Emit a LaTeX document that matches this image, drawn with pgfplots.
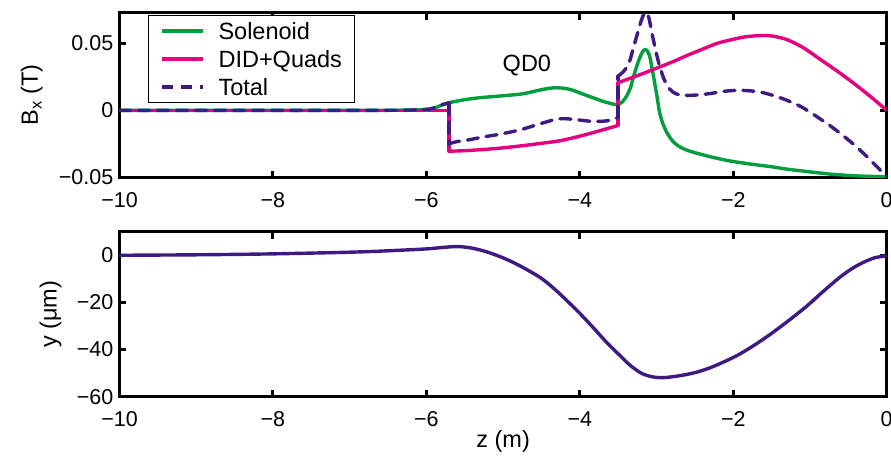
\documentclass[border=0pt]{standalone}
\usepackage{fontspec}
\setmainfont{Liberation Sans}
\usepackage{pgfplots}
\pgfplotsset{compat=1.18}
\definecolor{cgreen}{RGB}{0,158,61}
\definecolor{cpink}{RGB}{230,0,126}
\definecolor{cpurple}{RGB}{62,26,130}
\pgfplotsset{
  myaxis/.style={
    scale only axis, width=767.2pt, height=165pt,
    xmin=-10, xmax=0,
    scaled y ticks=false, scaled x ticks=false,
    axis line style={line width=3pt},
    every tick/.style={line width=3pt, black},
    major tick length=7pt,
    tick align=inside, xtick pos=both, ytick pos=both,
    xtick={-10,-8,-6,-4,-2,0},
    xticklabels={−10,−8,−6,−4,−2,0},
    ticklabel style={font=\fontsize{21.5}{25}\selectfont},
    xticklabel style={anchor=base, inner sep=0pt, yshift=-29.5pt},
    yticklabel style={anchor=east, inner sep=0pt, xshift=-6pt},
    label style={font=\fontsize{23.5}{28}\selectfont, inner sep=0pt},
    no markers,
    every axis plot/.append style={line width=3.4pt, line join=round, line cap=round},
  }
}
\begin{document}
\begin{tikzpicture}
\begin{axis}[myaxis, name=top, at={(0,0)}, anchor=south west,
  ymin=-0.05, ymax=0.073,
  ytick={-0.05,0,0.05}, yticklabels={−0.05,0,0.05},
  ylabel={B\textsubscript{x} (T)},
  ylabel style={at={(axis description cs:-0.1063,0.5)}, anchor=base},
  legend cell align=left,
  legend image code/.code={\draw[#1, line cap=butt] (0pt,0pt) -- (41pt,0pt);},
  legend style={at={(axis description cs:0.0368,0.985)}, anchor=north west,
    draw=black, line width=0.8pt, font=\fontsize{23.5}{28}\selectfont,
    inner xsep=12pt, inner ysep=3pt, row sep=3pt,
    nodes={inner sep=0pt, text height=21.3pt, text depth=3.7pt},
    /tikz/every odd column/.append style={column sep=14pt}},
]
% Solenoid
\addplot[cgreen, smooth, tension=0.4] coordinates {
(-10,0) (-9,0) (-8,0) (-7,0) (-6.5,0.0001) (-6.2,0.0003) (-6.05,0.0006)
(-5.95,0.0011) (-5.85,0.0028) (-5.78,0.0045) (-5.7,0.0058) (-5.6,0.0070)
(-5.48,0.0082) (-5.3,0.0095) (-5.05,0.0107) (-4.78,0.0121) (-4.65,0.0135)
(-4.52,0.0152) (-4.4,0.0165) (-4.31,0.0169) (-4.2,0.0165) (-4.1,0.0152)
(-3.95,0.0120) (-3.83,0.0095) (-3.7,0.0068) (-3.6,0.0052) (-3.546,0.0045)
(-3.49,0.0048) (-3.44,0.0067) (-3.39,0.0107) (-3.34,0.0170) (-3.286,0.0280)
(-3.24,0.0360) (-3.20,0.0418) (-3.17,0.0448) (-3.146,0.0455) (-3.12,0.0445)
(-3.09,0.0405) (-3.06,0.0320) (-3.025,0.0207) (-2.99,0.0090) (-2.96,-0.0017)
(-2.92,-0.0095) (-2.87,-0.0160) (-2.80,-0.0222) (-2.74,-0.0255) (-2.67,-0.0280)
(-2.6,-0.0297) (-2.52,-0.0312) (-2.3,-0.0345) (-2.09,-0.0372) (-1.8,-0.0398)
(-1.5,-0.0420) (-1.31,-0.0437) (-1.0,-0.0458) (-0.73,-0.0475) (-0.4,-0.0488)
(0,-0.0495)
};
\addlegendentry{Solenoid}
% DID+Quads
\addplot[cpink] coordinates {(-10,0) (-5.707,0) (-5.707,-0.0304)};
\addlegendentry{DID+Quads}
\addplot[cpink, smooth, forget plot] coordinates {
(-5.707,-0.0304) (-5.5,-0.0300) (-5.25,-0.0291) (-5.0,-0.0279) (-4.75,-0.0263)
(-4.5,-0.0245) (-4.26,-0.0226) (-4.0,-0.0192) (-3.75,-0.0153) (-3.5,-0.0112)
};
\addplot[cpink, forget plot] coordinates {(-3.5,-0.0112) (-3.5,0.0207)};
\addplot[cpink, smooth, forget plot] coordinates {
(-3.5,0.0207) (-3.2,0.0270) (-3.0,0.0315) (-2.8,0.0360) (-2.6,0.0410)
(-2.4,0.0457) (-2.2,0.0502) (-2.0,0.0530) (-1.85,0.0548) (-1.66,0.0558)
(-1.5,0.0555) (-1.31,0.0530) (-1.1,0.0472) (-0.87,0.0382) (-0.65,0.0295)
(-0.44,0.0207) (-0.2,0.0098) (0,0)
};
% Total
\addplot[cpurple, dash pattern=on 11pt off 8pt, smooth] coordinates {
(-10,0) (-8,0) (-7,0) (-6.5,0.0001) (-6.2,0.0003) (-6.05,0.0006) (-5.95,0.0011)
(-5.85,0.0028) (-5.78,0.0045) (-5.707,0.0055)
};
\addlegendentry{Total}
\addplot[cpurple, dash pattern=on 11pt off 8pt, forget plot] coordinates {(-5.707,0.0055) (-5.707,-0.0249)};
\addplot[cpurple, dash pattern=on 11pt off 8pt, smooth, forget plot] coordinates {
(-5.707,-0.0249) (-5.6,-0.0232) (-5.5,-0.0225) (-5.25,-0.0197) (-5.05,-0.0178)
(-4.78,-0.0145) (-4.52,-0.0100) (-4.31,-0.0066) (-4.18,-0.0062) (-4.0,-0.0072)
(-3.83,-0.0082) (-3.65,-0.0078) (-3.55,-0.0062) (-3.5,-0.0052)
};
\addplot[cpurple, dash pattern=on 11pt off 8pt, forget plot] coordinates {(-3.5,-0.0052) (-3.5,0.0256)};
\addplot[cpurple, dash pattern=on 11pt off 8pt, smooth, forget plot] coordinates {
(-3.5,0.0256) (-3.44,0.0285) (-3.39,0.0320) (-3.35,0.0368) (-3.29,0.0490)
(-3.22,0.0630) (-3.18,0.0700) (-3.14,0.0734) (-3.10,0.0690) (-3.05,0.0550)
(-3.0,0.0420) (-2.96,0.0330) (-2.9,0.0230) (-2.83,0.0160) (-2.75,0.0125)
(-2.66,0.0113) (-2.5,0.0114) (-2.31,0.0125) (-2.13,0.0142) (-1.92,0.0150)
(-1.66,0.0138) (-1.40,0.0097) (-1.13,0.0032) (-0.92,-0.0043) (-0.70,-0.0130)
(-0.48,-0.0229) (-0.265,-0.0340) (-0.07,-0.0453) (0,-0.0490)
};
\node[font=\fontsize{23.5}{28}\selectfont, inner sep=0pt] at (axis cs:-4.69,0.0338) {QD0};
\end{axis}
\begin{axis}[myaxis, name=bot, at={(0,-54.2pt)}, anchor=north west,
  ymin=-60, ymax=10,
  ytick={-60,-40,-20,0}, yticklabels={−60,−40,−20,0},
  ylabel={y (μm)},
  ylabel style={at={(axis description cs:-0.0819,0.5)}, anchor=base},
  xlabel={z (m)},
  xlabel style={at={(axis description cs:0.5,0)}, anchor=base, yshift=-51pt},
]
\addplot[cpurple, smooth] coordinates {
(-10,0) (-9,0.2) (-8,0.6) (-7,1.3) (-6.5,1.9) (-6,2.7) (-5.83,3.2) (-5.6,3.7)
(-5.4,3.0) (-5.18,1.1) (-4.95,-1.8) (-4.74,-5.2) (-4.5,-9.8) (-4.31,-14.9)
(-4.1,-21.4) (-3.96,-26) (-3.8,-31.6) (-3.65,-37) (-3.5,-41.8) (-3.35,-46.5)
(-3.2,-50.0) (-3.05,-51.6) (-2.9,-51.9) (-2.7,-51.1) (-2.5,-49.8) (-2.3,-47.7)
(-2.1,-44.9) (-1.92,-42) (-1.7,-37.6) (-1.49,-32.9) (-1.27,-27.5) (-1.05,-21.8)
(-0.83,-15.4) (-0.61,-9.3) (-0.45,-5.6) (-0.31,-3.1) (-0.15,-1.0) (0,-0.3)
};
\end{axis}
\pgfresetboundingbox
\path[use as bounding box] (-119.5pt,177.5pt) rectangle (771.5pt,-280.5pt);
\end{tikzpicture}
\end{document}
